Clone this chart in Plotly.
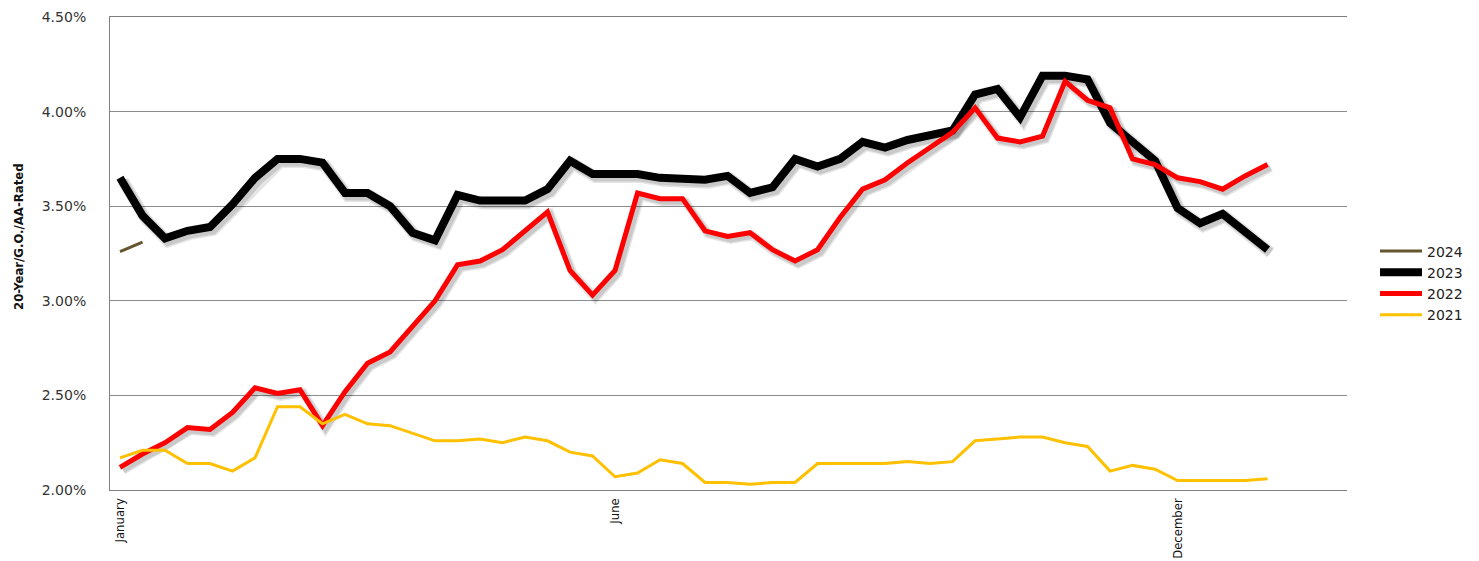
import plotly.graph_objects as go

# ---- data (weekly, index 0 = first week of January) ----
week_index = list(range(52))
tick_positions = [0, 22, 47]
tick_labels = ["January", "June", "December"]
y_ticks = [2.0, 2.5, 3.0, 3.5, 4.0, 4.5]
y_tick_labels = ["2.00%", "2.50%", "3.00%", "3.50%", "4.00%", "4.50%"]
y_title = "20-Year/G.O./AA-Rated"

rates_2024 = [3.26, 3.31]

rates_2023 = [3.65, 3.45, 3.33, 3.37, 3.39, 3.51, 3.65, 3.75, 3.75, 3.73,
              3.57, 3.57, 3.50, 3.36, 3.32, 3.56, 3.53, 3.53, 3.53, 3.59,
              3.74, 3.67, 3.67, 3.67, 3.65, 3.65, 3.64, 3.66, 3.57, 3.60,
              3.75, 3.71, 3.75, 3.84, 3.81, 3.85, 3.87, 3.90, 4.09, 4.12,
              3.97, 4.19, 4.19, 4.17, 3.94, 3.84, 3.74, 3.49, 3.41, 3.46,
              3.37, 3.27]

rates_2022 = [2.12, 2.19, 2.25, 2.33, 2.32, 2.41, 2.54, 2.51, 2.53, 2.34,
              2.52, 2.67, 2.73, 2.87, 3.00, 3.19, 3.21, 3.27, 3.37, 3.47,
              3.16, 3.03, 3.16, 3.57, 3.54, 3.54, 3.37, 3.34, 3.36, 3.27,
              3.21, 3.27, 3.44, 3.59, 3.64, 3.73, 3.81, 3.89, 4.02, 3.86,
              3.84, 3.87, 4.16, 4.06, 4.02, 3.75, 3.72, 3.65, 3.63, 3.59,
              3.66, 3.72]

rates_2021 = [2.17, 2.21, 2.21, 2.14, 2.14, 2.10, 2.17, 2.44, 2.44, 2.35,
              2.40, 2.35, 2.34, 2.30, 2.26, 2.26, 2.27, 2.25, 2.28, 2.26,
              2.20, 2.18, 2.07, 2.09, 2.16, 2.14, 2.04, 2.04, 2.03, 2.04,
              2.04, 2.14, 2.14, 2.14, 2.14, 2.15, 2.14, 2.15, 2.26, 2.27,
              2.28, 2.28, 2.25, 2.23, 2.10, 2.13, 2.11, 2.05, 2.05, 2.05,
              2.05, 2.06]

series = [
    ("2024", rates_2024, "#655630", 3),
    ("2023", rates_2023, "#000000", 8),
    ("2022", rates_2022, "#FF0000", 5),
    ("2021", rates_2021, "#FFC000", 3),
]

# ---- geometry ----
W, H = 1479, 561
L, R, T, B = 110, 132, 17, 71
plot_w = W - L - R
plot_h = H - T - B
x_range = [-0.444, 54.53]
y_range = [2.0, 4.5]
px_x = (x_range[1] - x_range[0]) / plot_w
px_y = (y_range[1] - y_range[0]) / plot_h
sh = 3  # shadow offset in px

fig = go.Figure()

# soft drop shadows (base axes, shifted range so they sit a few px right/down)
for name, vals, color, width in series:
    if name in ("2023", "2022"):
        fig.add_trace(go.Scatter(
            x=week_index[:len(vals)], y=vals, mode="lines",
            line=dict(color="rgba(0,0,0,0.10)", width=width + 4),
            showlegend=False, hoverinfo="skip", xaxis="x", yaxis="y"))
        fig.add_trace(go.Scatter(
            x=week_index[:len(vals)], y=vals, mode="lines",
            line=dict(color="rgba(0,0,0,0.12)", width=width + 1),
            showlegend=False, hoverinfo="skip", xaxis="x", yaxis="y"))

# main lines on the overlaying axes
for name, vals, color, width in series:
    fig.add_trace(go.Scatter(
        x=week_index[:len(vals)], y=vals, mode="lines", name=name,
        line=dict(color=color, width=width),
        xaxis="x2", yaxis="y2"))

fig.update_layout(
    width=W, height=H,
    margin=dict(l=L, r=R, t=T, b=B, autoexpand=False),
    paper_bgcolor="white", plot_bgcolor="white",
    showlegend=True,
    legend=dict(
        x=(1375 - L) / plot_w, xanchor="left",
        y=(490 - 283) / plot_h, yanchor="middle",
        font=dict(family="DejaVu Sans, Verdana, sans-serif", size=14, color="#222"),
        bgcolor="rgba(0,0,0,0)", itemwidth=42,
    ),
    xaxis=dict(range=[x_range[0] - sh * px_x, x_range[1] - sh * px_x],
               visible=False, fixedrange=True),
    yaxis=dict(range=[y_range[0] + sh * px_y, y_range[1] + sh * px_y],
               visible=False, fixedrange=True),
    xaxis2=dict(
        overlaying="x", range=x_range, side="bottom",
        tickmode="array", tickvals=tick_positions, ticktext=tick_labels,
        tickangle=-90, ticks="", showgrid=False, zeroline=False,
        showline=True, mirror=True, linecolor="#7f7f7f", linewidth=1,
        tickfont=dict(family="DejaVu Sans Condensed, sans-serif",
                      size=13, color="#111"),
        ticklabelstandoff=2, automargin=False,
    ),
    yaxis2=dict(
        overlaying="y", range=y_range, side="left",
        tickmode="array", tickvals=y_ticks, ticktext=y_tick_labels,
        ticks="", showgrid=True, gridcolor="#8c8c8c", gridwidth=1,
        zeroline=False, showline=True, linecolor="#7f7f7f", linewidth=1,
        tickfont=dict(family="DejaVu Sans, Verdana, sans-serif", size=14, color="#333"),
        ticklabelstandoff=20, automargin=False,
    ),
    annotations=[dict(
        text="<b>" + y_title + "</b>", textangle=-90,
        xref="paper", yref="paper",
        x=(18 - L) / plot_w, y=(490 - 237) / plot_h,
        xanchor="center", yanchor="middle", showarrow=False,
        font=dict(family="DejaVu Sans Condensed, sans-serif", size=13, color="#111"),
    )],
)

fig.write_html("out.html")
